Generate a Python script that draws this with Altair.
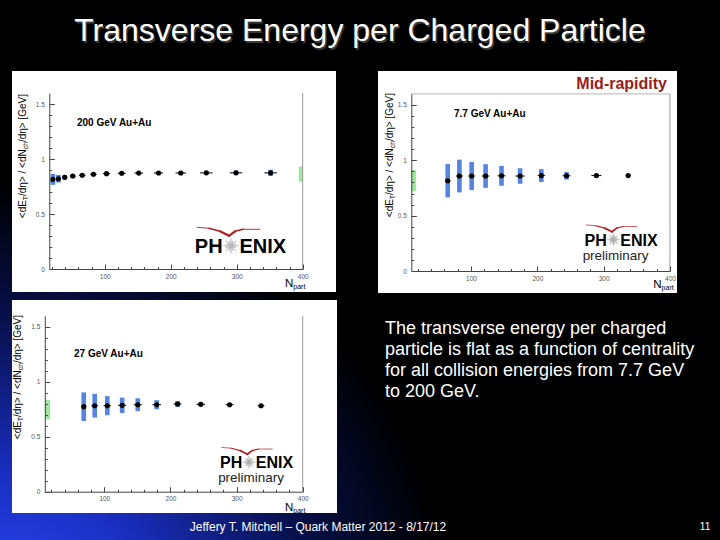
import math
import altair as alt
import pandas as pd

SANS = "Liberation Sans, Arial, Helvetica, sans-serif"
BLUE = "#5585e0"
GREEN = "#9be99b"
RED = "#b01e1e"
AX = "#444444"
W, H = 720, 540

# ---------------- data ----------------
# 200 GeV Au+Au
npart_200 = [21.5, 29.8, 39.4, 51.6, 65.9, 82.9, 102.7, 125.7, 151.5, 181.6, 215.3, 253.9, 299.0, 351.4]
npart_err_200 = [3.0, 3.5, 4.0, 4.5, 5.0, 5.0, 5.5, 6.0, 6.5, 7.0, 8.0, 9.5, 9.5, 9.5]
ratio_200 = [0.815, 0.821, 0.833, 0.845, 0.852, 0.861, 0.867, 0.870, 0.872, 0.873, 0.873, 0.874, 0.874, 0.874]
sys_200 = [0.050, 0.035, 0.020, 0.015, 0.012, 0.010, 0.010, 0.010, 0.010, 0.010, 0.012, 0.015, 0.020, 0.028]

# 7.7 GeV Au+Au
npart_7 = [64.9, 82.5, 101.0, 122.0, 146.0, 174.0, 206.0, 244.0, 289.0, 337.0]
npart_err_7 = [4.0, 5.0, 5.0, 5.5, 6.0, 7.0, 5.5, 6.0, 7.5, 4.0]
ratio_7 = [0.816, 0.858, 0.858, 0.858, 0.860, 0.858, 0.862, 0.860, 0.862, 0.862]
sys_7 = [0.151, 0.148, 0.127, 0.107, 0.090, 0.070, 0.058, 0.034, 0.015, 0.008]

# 27 GeV Au+Au
npart_27 = [68.9, 85.5, 104.5, 127.0, 150.6, 179.2, 210.8, 245.9, 289.5, 337.0]
npart_err_27 = [4.0, 5.0, 5.5, 6.0, 6.0, 6.5, 6.0, 6.5, 6.0, 5.0]
ratio_27 = [0.773, 0.782, 0.782, 0.785, 0.791, 0.791, 0.797, 0.794, 0.791, 0.782]
sys_27 = [0.130, 0.108, 0.087, 0.070, 0.059, 0.041, 0.027, 0.017, 0.010, 0.008]

# global uncertainty band: [Npart low, Npart high, centre, half height]
global_200 = [394.0, 400.0, 0.862, 0.068]
global_7 = [10.0, 17.0, 0.816, 0.096]
global_27 = [10.5, 18.0, 0.748, 0.087]

x_major = [100, 200, 300, 400]
x_minor = [v for v in range(20, 400, 20) if v % 100]
y_major = [0, 0.5, 1, 1.5]
y_minor = [round(0.1 * i, 1) for i in range(1, 16) if i % 5]

body_lines = [
    "The transverse energy per charged",
    "particle is flat as a function of centrality",
    "for all collision energies from 7.7 GeV",
    "to 200 GeV.",
]

dummy = alt.Data(values=[{}])


def txt(s, x, y, size, color="black", weight="normal", align="left",
        baseline="alphabetic", angle=None, font=SANS):
    kw = dict(text=s, fontSize=size, color=color, fontWeight=weight,
              align=align, baseline=baseline, font=font)
    if angle is not None:
        kw["angle"] = angle
    return alt.Chart(dummy).mark_text(**kw).encode(x=alt.value(x), y=alt.value(y))


def seg(x1, y1, x2, y2, w, color=RED):
    return alt.Chart(dummy).mark_rule(color=color, strokeWidth=w, strokeCap="round").encode(
        x=alt.value(x1), y=alt.value(y1), x2=alt.value(x2), y2=alt.value(y2))


def box(x1, y1, x2, y2, fill):
    return alt.Chart(dummy).mark_rect(color=fill).encode(
        x=alt.value(x1), y=alt.value(y1), x2=alt.value(x2), y2=alt.value(y2))


# Liberation Sans advance widths (em) for the axis-title glyphs
ADV = {"<": 0.584, ">": 0.584, "d": 0.556, "E": 0.667, "/": 0.278, "η": 0.556,
       " ": 0.278, "N": 0.722, "[": 0.278, "]": 0.278, "G": 0.778, "e": 0.556,
       "V": 0.667, "T": 0.611, "c": 0.5, "h": 0.556}


def width(s, size):
    return sum(ADV.get(ch, 0.556) for ch in s) * size


def y_title(x_base, y_top, size=10.0):
    parts = [("<dE", False), ("T", True), ("/dη> / <dN", False), ("ch", True), ("/dη> [GeV]", False)]
    sub = size * 0.68
    total = sum(width(t, sub if s else size) for t, s in parts)
    y = y_top + total
    out = []
    for t, s in parts:
        fs = sub if s else size
        out.append(txt(t, x_base + (2.5 if s else 0), y, fs, angle=270))
        y -= width(t, fs)
    return out


def x_title(x, y):
    return [txt("N", x, y, 11.5), txt("part", x + 8.3, y + 2, 7)]


def logo(cx, base, size, prelim=False):
    """PHENIX wordmark with a starburst in place of the O and a red swoosh above."""
    gap = size * 0.42
    items = [
        txt("PH", cx - gap, base, size, weight="bold", align="right"),
        txt("ENIX", cx + gap, base, size, weight="bold", align="left"),
    ]
    # starburst: thin grey rays
    sx, sy = cx, base - size * 0.36
    r_in, r_out = size * 0.06, size * 0.36
    for i in range(16):
        a = math.pi * 2 * i / 16
        r = r_out if i % 2 == 0 else r_out * 0.7
        items.append(seg(sx + r_in * math.cos(a), sy + r_in * math.sin(a),
                         sx + r * math.cos(a), sy + r * math.sin(a), 0.8, color="#a0a0a0"))
    # swoosh
    k = size / 20.0
    dipx, dipy = cx - 2 * k, base - size * 0.86
    pts = [(-32, -8.5), (-20, -7.5), (-9, -4.5), (0, 0), (6, -4.5), (14, -6.5), (31, -6.5)]
    wts = [0.9, 1.4, 2.2, 2.2, 1.4, 0.9]
    for (a, b), (c, d), w in zip(pts[:-1], pts[1:], wts):
        items.append(seg(dipx + a * k, dipy + b * k, dipx + c * k, dipy + d * k, w * max(k, 0.8)))
    if prelim:
        items.append(txt("preliminary", cx + 2, base + 14, size * 0.84, align="center", color="#222"))
    return items


def panel(npart, nerr, ratio, sys, glob, xdom, xpix, ypix, top_line=False):
    left, right = xpix
    bottom, top = ypix
    xs = alt.Scale(domain=xdom, range=[left, right], nice=False, zero=False)
    ys = alt.Scale(domain=[0, 1.6], range=[bottom, top], nice=False, zero=False)
    common = dict(title=None, grid=False, zindex=1)
    ax_x_major = alt.Axis(orient="top", offset=-bottom, values=x_major, tickSize=5, tickColor=AX,
                          domain=True, domainColor=AX, labels=False, **common)
    ax_x_minor = alt.Axis(orient="top", offset=-bottom, values=x_minor, tickSize=2.5, tickColor=AX,
                          domain=False, labels=False, **common)
    ax_x_lab = alt.Axis(orient="bottom", offset=bottom - H, values=x_major, ticks=False, domain=False,
                        labelPadding=4, labelFontSize=6.5, labelColor="#555", labelFont=SANS,
                        labelFlush=False, labelOverlap=False, format="d", **common)
    ax_y_major = alt.Axis(orient="right", offset=left - W, values=y_major, tickSize=5, tickColor=AX,
                          domain=True, domainColor=AX, labels=False, **common)
    ax_y_minor = alt.Axis(orient="right", offset=left - W, values=y_minor, tickSize=2.5, tickColor=AX,
                          domain=False, labels=False, **common)
    ax_y_lab = alt.Axis(orient="left", offset=-left, values=y_major, ticks=False, domain=False,
                        labelPadding=5, labelFontSize=6.5, labelColor="#555", labelFont=SANS,
                        labelOverlap=False, format="~g", **common)

    df = pd.DataFrame({"npart": npart, "nerr": nerr, "ratio": ratio, "sys": sys})
    gdf = pd.DataFrame({"n0": [glob[0]], "n1": [glob[1]], "c": [glob[2]], "h": [glob[3]]})

    band = alt.Chart(gdf).transform_calculate(
        r0="datum.c - datum.h", r1="datum.c + datum.h"
    ).mark_rect(color=GREEN).encode(
        x=alt.X("n0:Q", scale=xs, axis=None), x2="n1:Q",
        y=alt.Y("r0:Q", scale=ys, axis=None), y2="r1:Q")

    boxes = alt.Chart(df).transform_calculate(
        n0="datum.npart - 3.5", n1="datum.npart + 3.5",
        r0="datum.ratio - datum.sys", r1="datum.ratio + datum.sys"
    ).mark_rect(color=BLUE).encode(
        x=alt.X("n0:Q", scale=xs, axis=ax_x_major), x2="n1:Q",
        y=alt.Y("r0:Q", scale=ys, axis=ax_y_major), y2="r1:Q")

    hbars = alt.Chart(df).transform_calculate(
        n0="datum.npart - datum.nerr", n1="datum.npart + datum.nerr"
    ).mark_rule(color="black", strokeWidth=1).encode(
        x=alt.X("n0:Q", scale=xs, axis=ax_x_minor), x2="n1:Q",
        y=alt.Y("ratio:Q", scale=ys, axis=ax_y_minor))

    dots = alt.Chart(df).mark_circle(size=26, color="black", opacity=1).encode(
        x=alt.X("npart:Q", scale=xs, axis=ax_x_lab),
        y=alt.Y("ratio:Q", scale=ys, axis=ax_y_lab))

    frame = alt.Chart(dummy).mark_rule(color="#9a9a9a", strokeWidth=1).encode(
        x=alt.XDatum(xdom[1], scale=xs, axis=None),
        y=alt.YDatum(0, scale=ys, axis=None), y2=alt.Y2Datum(1.6))
    parts = [band, boxes, hbars, dots, frame]
    if top_line:
        parts.append(alt.Chart(dummy).mark_rule(color="#b5b5b5", strokeWidth=1).encode(
            x=alt.XDatum(xdom[0], scale=xs, axis=None), x2=alt.X2Datum(xdom[1]),
            y=alt.YDatum(1.6, scale=ys, axis=None)))
    return alt.layer(*parts).resolve_axis(x="independent", y="independent")


# ---------------- slide background ----------------
gradient = {
    "gradient": "radial", "x1": 0, "y1": 1, "r1": 0, "x2": 0, "y2": 1, "r2": 0.62,
    "stops": [
        {"offset": 0.0, "color": "#2f4cff"},
        {"offset": 0.35, "color": "#1a2ec0"},
        {"offset": 0.7, "color": "#08104a"},
        {"offset": 1.0, "color": "#000000"},
    ],
}
layers = [
    box(0, 0, W, H, "#000000"),
    alt.Chart(dummy).mark_rect(color=gradient).encode(
        x=alt.value(0), y=alt.value(0), x2=alt.value(W), y2=alt.value(H)),
    box(12, 71, 336, 292, "#ffffff"),
    box(378, 71, 677, 293, "#ffffff"),
    box(12, 300, 337, 513, "#ffffff"),
]

# ---------------- panels ----------------
layers.append(panel(npart_200, npart_err_200, ratio_200, sys_200, global_200,
                    [16, 400], (49.3, 302.7), (269, 93)))
layers.append(panel(npart_7, npart_err_7, ratio_7, sys_7, global_7,
                    [10, 400], (411.3, 670), (271, 93.9), top_line=True))
layers.append(panel(npart_27, npart_err_27, ratio_27, sys_27, global_27,
                    [10, 400], (44.8, 302.7), (491.7, 315.7)))

# axis titles
layers += y_title(25.8, 94)
layers += y_title(392.5, 93)
layers += y_title(20.8, 315)
layers += x_title(285, 286.7)
layers += x_title(653.3, 287.7)
layers += x_title(285, 510.5)

# panel annotations
layers.append(txt("200 GeV Au+Au", 77, 126, 10, weight="bold"))
layers.append(txt("7.7 GeV Au+Au", 454, 117, 10, weight="bold"))
layers.append(txt("27 GeV Au+Au", 74, 357, 10, weight="bold"))
layers.append(txt("Mid-rapidity", 667, 89, 16, color="#9a1c1c", weight="bold", align="right"))

layers += logo(231, 253, 20)
layers += logo(613.5, 245.5, 16, prelim=True)
layers += logo(249, 468, 16, prelim=True)

# ---------------- slide text ----------------
title = "Transverse Energy per Charged Particle"
layers.append(txt(title, 361.5, 42.5, 32, color="#3a3a3a", align="center"))
layers.append(txt(title, 360, 41, 32, color="white", align="center"))
for i, line in enumerate(body_lines):
    layers.append(txt(line, 385, 333.5 + 21.3 * i, 18, color="white"))
layers.append(txt("Jeffery T. Mitchell – Quark Matter 2012 - 8/17/12", 318, 531, 12,
                  color="white", align="center"))
layers.append(txt("11", 705, 530, 10, color="white", align="center"))

chart = alt.layer(*layers).resolve_scale(x="independent", y="independent").properties(
    width=W, height=H, padding=0,
    autosize=alt.AutoSizeParams(type="none"), background="black",
).configure_view(stroke=None)

chart.save("out.html", embed_options={"renderer": "svg", "actions": False})
